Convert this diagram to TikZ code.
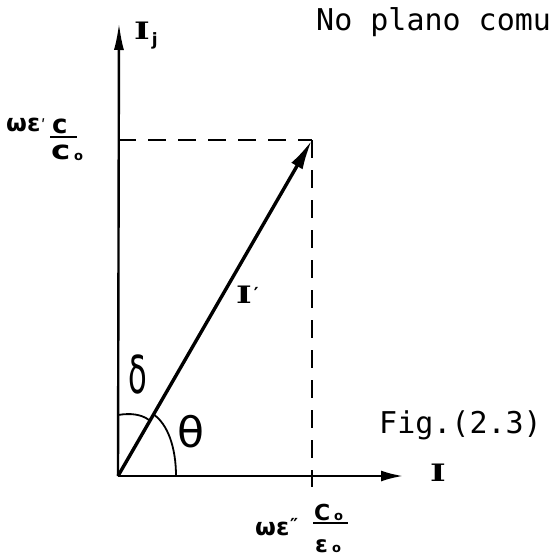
\documentclass[tikz,border=0pt]{standalone}
\usepackage{fontspec}
\usetikzlibrary{arrows.meta}
\newfontfamily\tw{DejaVu Sans Mono}
\newfontfamily\gk{DejaVu Sans}
\newfontfamily\sr{DejaVu Serif}
\begin{document}
\begin{tikzpicture}[x=1pt,y=-1pt,
  axis/.style={line width=2.4pt},
  vec/.style={line width=3.4pt, -{Latex[length=30pt,width=13pt]}},
  guide/.style={line width=1.8pt, dash pattern=on 18pt off 12pt},
  thin/.style={line width=1.8pt},
  lbl/.style={inner sep=0pt, anchor=base west},
  mono/.style={lbl, font=\tw\fontsize{30}{30}\selectfont},
  bigI/.style={lbl, font=\sr\bfseries\fontsize{24}{24}\selectfont},
  greek/.style={lbl, font=\gk\bfseries\fontsize{24}{24}\selectfont},
  small/.style={lbl, font=\gk\bfseries\fontsize{13}{13}\selectfont}]
\useasboundingbox (0,0) rectangle (552,557);
% points
\coordinate (O) at (118,476);
\coordinate (Yend) at (119,23);
\coordinate (Xend) at (403,476);
\coordinate (P) at (312,140);
\coordinate (Py) at (118,140);
\coordinate (Pdown) at (312,487);
% axes
\draw[axis, -{Latex[length=27pt,width=10pt]}] (O) -- (Yend);
\draw[axis, -{Latex[length=22pt,width=11pt]}] (O) -- (Xend);
% guides
\draw[guide] (Py) -- (P);
\draw[guide] (P) -- (Pdown);
% vector
\draw[vec] (O) -- (P);
% angle arcs
\coordinate (d1) at (118,415);
\coordinate (d2) at (149,420);
\coordinate (t1) at (153,414);
\coordinate (t2) at (176,476);
\draw[thin] (d1) .. controls (130,413) and (141,414) .. (d2);
\draw[thin] (t1) .. controls (168,424) and (176,448) .. (t2);
% angle labels
\node[lbl, font=\gk\fontsize{36}{36}\selectfont] (delta) at (128,393) {\scalebox{0.85}[1.45]{δ}};
\node[lbl, font=\gk\fontsize{42}{42}\selectfont] (theta) at (177,447) {\scalebox{1.05}[1]{θ}};
% axis labels
\node[bigI] (Ij) at (134,39) {\scalebox{1.4}[1]{I}\hspace{2pt}\raisebox{-6pt}{\gk\bfseries\fontsize{17}{17}\selectfont j}};
\node[bigI] (Ix) at (430,481) {\scalebox{1.4}[1]{I}};
\node[bigI] (Ip) at (236,303) {\scalebox{1.4}[1]{I}\hspace{2pt}\raisebox{3pt}{\gk\bfseries\fontsize{18}{18}\selectfont ′}};
% texts
\node[mono] (title) at (316,30) {No plano comu};
\node[mono] (fig) at (379,433) {Fig.(2.3)};
% left label
\node[greek] (wl) at (6,131) {ωε};
\node[lbl, font=\gk\fontsize{16}{16}\selectfont] (wlp) at (41,131) {ʹ};
\node[lbl, font=\gk\bfseries\fontsize{26}{26}\selectfont] (cl) at (52,133) {c};
\coordinate (bl1) at (50,137);
\coordinate (bl2) at (77,137);
\draw[thin] (bl1) -- (bl2);
\node[lbl, font=\gk\bfseries\fontsize{26}{26}\selectfont] (Cl) at (51,159) {\scalebox{1.25}[1]{c}};
\node[small] (ol) at (74,160) {o};
% bottom label
\node[greek] (wb) at (255,535) {ωε};
\node[lbl, font=\gk\bfseries\fontsize{18}{18}\selectfont] (wbp) at (290,531) {″};
\node[lbl, font=\gk\bfseries\fontsize{22}{22}\selectfont] (Cb) at (314,520) {C};
\node[small] (ob) at (334,520) {o};
\coordinate (bb1) at (313,523);
\coordinate (bb2) at (348,523);
\draw[thin] (bb1) -- (bb2);
\node[lbl, font=\gk\bfseries\fontsize{23}{23}\selectfont] (eb) at (315,552) {ε};
\node[small] (ob2) at (332,552) {o};
\end{tikzpicture}
\end{document}
